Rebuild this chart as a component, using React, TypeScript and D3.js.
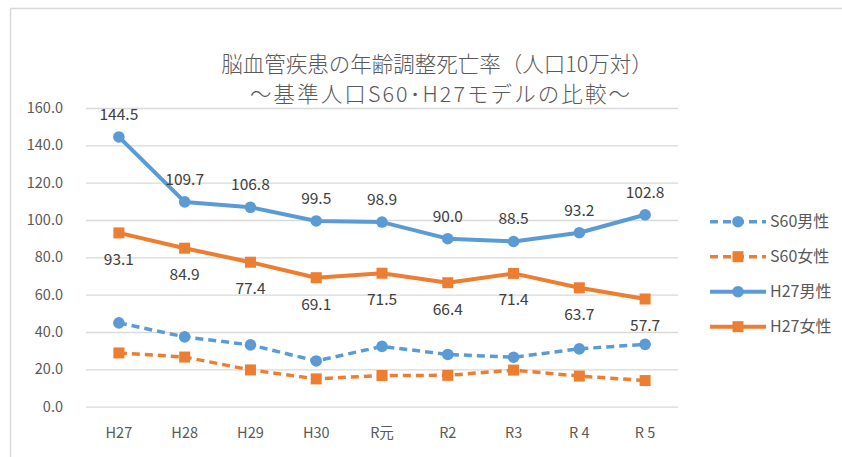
import React, { useRef, useEffect } from 'react';
import * as d3 from 'd3';

const categories = ['H27', 'H28', 'H29', 'H30', 'R元', 'R2', 'R3', 'R 4', 'R 5'];
const s60Male = [44.9, 37.4, 33.1, 24.5, 32.3, 28.0, 26.5, 31.0, 33.4];
const s60Female = [28.8, 26.6, 19.7, 14.9, 16.7, 16.8, 19.6, 16.4, 14.0];
const h27Male = [144.5, 109.7, 106.8, 99.5, 98.9, 90.0, 88.5, 93.2, 102.8];
const h27Female = [93.1, 84.9, 77.4, 69.1, 71.5, 66.4, 71.4, 63.7, 57.7];
const yTicks = [0, 20, 40, 60, 80, 100, 120, 140, 160];

const BLUE = '#5B9BD5';
const ORANGE = '#ED7D31';
const FONT = '"Noto Sans CJK JP", "Noto Sans", sans-serif';

const series = [
  { name: 'S60男性', values: s60Male, color: BLUE, dashed: true, marker: 'circle', label: null },
  { name: 'S60女性', values: s60Female, color: ORANGE, dashed: true, marker: 'square', label: null },
  { name: 'H27男性', values: h27Male, color: BLUE, dashed: false, marker: 'circle', label: 'above' },
  { name: 'H27女性', values: h27Female, color: ORANGE, dashed: false, marker: 'square', label: 'below' },
];

function App() {
  const svgRef = useRef<SVGSVGElement>(null);
  const width = 842;
  const height = 457;

  useEffect(() => {
    const svg = d3.select(svgRef.current);
    svg.selectAll('*').remove();

    // chart frame (only top and left edges are visible in the crop)
    svg.append('path')
      .attr('d', 'M10.5,457 V8.5 H842')
      .attr('fill', 'none')
      .attr('stroke', '#d9d9d9')
      .attr('stroke-width', 1.5);

    const xScale = d3.scaleBand()
      .domain(categories)
      .range([86, 678]);

    const yScale = d3.scaleLinear()
      .domain([0, 160])
      .range([406.7, 108]);

    const cx = (i: number) => (xScale(categories[i]) as number) + xScale.bandwidth() / 2;

    // gridlines
    const grid = svg.append('g')
      .call(d3.axisLeft(yScale).tickValues(yTicks).tickSize(-(678 - 86)).tickFormat(() => ''))
      .attr('transform', 'translate(86,0)');
    grid.select('.domain').remove();
    grid.selectAll('.tick line').attr('stroke', '#d9d9d9').attr('stroke-width', 1.3);

    // y labels
    svg.append('g').selectAll('text').data(yTicks).enter().append('text')
      .attr('x', 63)
      .attr('y', d => yScale(d))
      .attr('dy', '0.35em')
      .attr('text-anchor', 'end')
      .attr('font-family', FONT)
      .attr('font-size', 14.5)
      .attr('fill', '#595959')
      .text(d => d3.format('.1f')(d));

    // x labels
    svg.append('g').selectAll('text').data(categories).enter().append('text')
      .attr('x', (d, i) => cx(i))
      .attr('y', 438)
      .attr('text-anchor', 'middle')
      .attr('font-family', FONT)
      .attr('font-size', 14.5)
      .attr('fill', '#595959')
      .text(d => d);

    const line = d3.line<number>()
      .x((d, i) => cx(i))
      .y(d => yScale(d));

    const drawMarker = (g: any, shape: string, x: number, y: number, color: string) => {
      if (shape === 'circle') {
        g.append('circle').attr('cx', x).attr('cy', y).attr('r', 5.8).attr('fill', color);
      } else {
        g.append('rect').attr('x', x - 5.5).attr('y', y - 5.5).attr('width', 11).attr('height', 11).attr('fill', color);
      }
    };

    series.forEach(s => {
      const g = svg.append('g');
      g.append('path')
        .datum(s.values)
        .attr('d', line)
        .attr('fill', 'none')
        .attr('stroke', s.color)
        .attr('stroke-width', s.dashed ? 3.5 : 4)
        .attr('stroke-dasharray', s.dashed ? '8,5' : null)
        .attr('stroke-linejoin', 'round');
      s.values.forEach((v, i) => drawMarker(g, s.marker, cx(i), yScale(v), s.color));
      if (s.label) {
        g.selectAll('text.lbl').data(s.values).enter().append('text')
          .attr('class', 'lbl')
          .attr('x', (d, i) => cx(i))
          .attr('y', d => yScale(d) + (s.label === 'above' ? -17 : 32))
          .attr('text-anchor', 'middle')
          .attr('font-family', FONT)
          .attr('font-size', 15.5)
          .attr('fill', '#404040')
          .text(d => d3.format('.1f')(d));
      }
    });

    // legend
    const legend = svg.append('g');
    series.forEach((s, k) => {
      const y = 221.7 + k * 35;
      legend.append('line')
        .attr('x1', 710).attr('x2', 766)
        .attr('y1', y).attr('y2', y)
        .attr('stroke', s.color)
        .attr('stroke-width', s.dashed ? 3.5 : 4)
        .attr('stroke-dasharray', s.dashed ? '8,5' : null);
      drawMarker(legend, s.marker, 738, y, s.color);
      legend.append('text')
        .attr('x', 770).attr('y', y)
        .attr('dy', '0.35em')
        .attr('font-family', FONT)
        .attr('font-size', 16)
        .attr('fill', '#595959')
        .text(s.name);
    });

    // title
    svg.append('text')
      .attr('x', 437).attr('y', 72)
      .attr('text-anchor', 'middle')
      .attr('font-family', FONT)
      .attr('font-size', 21.5)
      .attr('font-weight', 300)
      .attr('fill', '#595959')
      .text('脳血管疾患の年齢調整死亡率（人口10万対）');
    svg.append('text')
      .attr('x', 250).attr('y', 102)
      .attr('textLength', 380)
      .attr('lengthAdjust', 'spacing')
      .attr('font-family', FONT)
      .attr('font-size', 21.5)
      .attr('font-weight', 300)
      .attr('fill', '#595959')
      .text('～基準人口S60･H27モデルの比較～');
  }, []);

  return (
    <svg ref={svgRef} width={width} height={height}
      style={{ position: 'absolute', left: 0, top: 0, background: '#fff' }} />
  );
}

export default App;
